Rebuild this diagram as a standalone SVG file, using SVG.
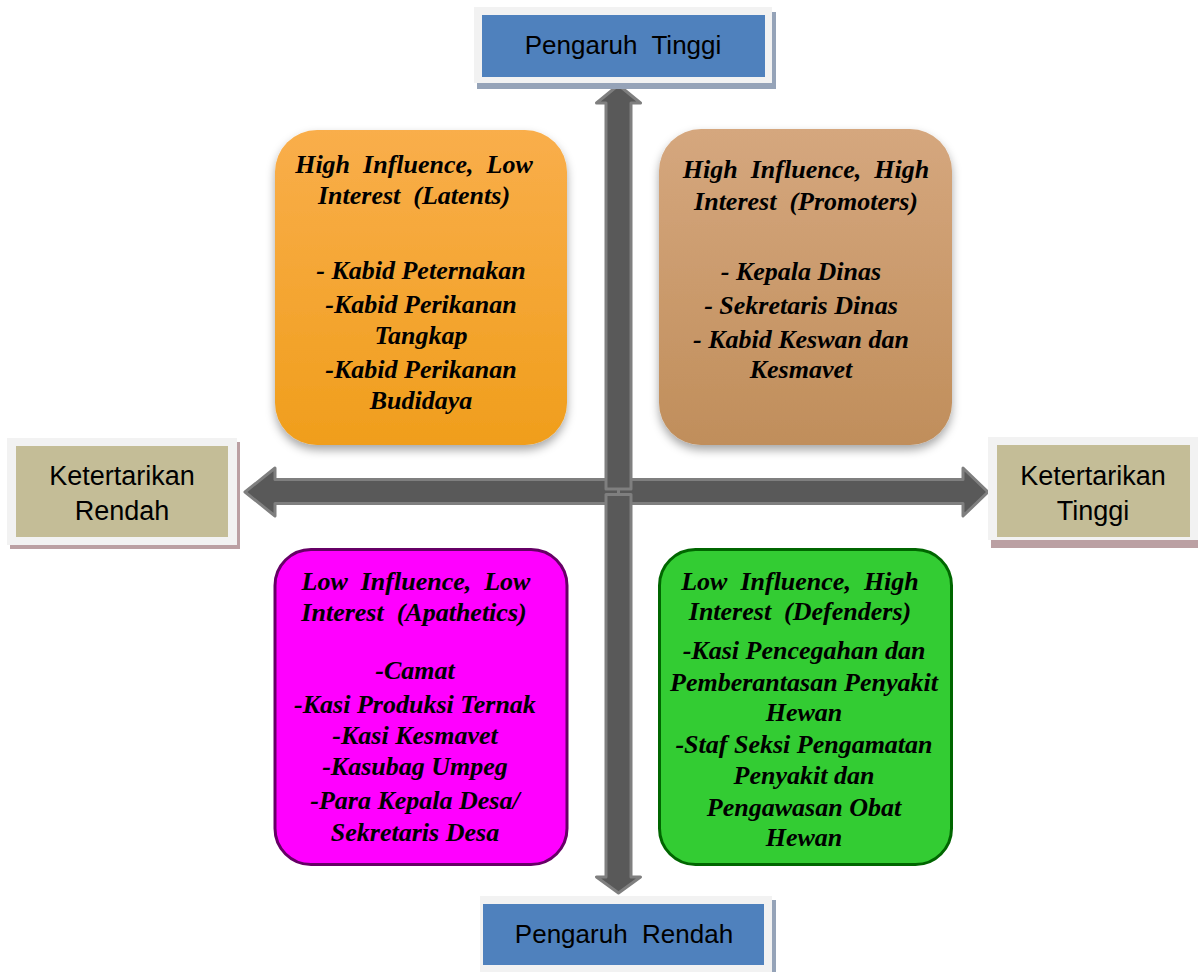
<svg xmlns="http://www.w3.org/2000/svg" width="1198" height="972" viewBox="0 0 1198 972">
<style>
.frame{fill:#f2f2f2}
.blue{fill:#4f81bd}
.tan{fill:#c4bd97}
.bshadow{fill:#95a3b8}
.tshadow{fill:#bba0a3}
.lbl{font-family:"Liberation Sans",Arial,sans-serif;font-size:26px;fill:#000;text-anchor:middle}
.side{font-size:27px}
.arrow{fill:#595959;stroke:#7f7f7f;stroke-width:3;stroke-linejoin:round}
.qt{font-family:"Liberation Serif","Times New Roman",serif;font-weight:bold;font-style:italic;font-size:26px;fill:#000;text-anchor:middle}
.qi{font-size:26px}
</style>
<defs>
<linearGradient id="gOrange" x1="0" y1="0" x2="0" y2="1">
<stop offset="0" stop-color="#f9ae4b"/>
<stop offset="1" stop-color="#f09e1c"/>
</linearGradient>
<linearGradient id="gBrown" x1="0" y1="0" x2="0" y2="1">
<stop offset="0" stop-color="#d5a77e"/>
<stop offset="1" stop-color="#c08e5b"/>
</linearGradient>
<filter id="soft" x="-10%" y="-10%" width="120%" height="125%">
<feDropShadow dx="0" dy="5" stdDeviation="5" flood-color="#000" flood-opacity="0.35"/>
</filter>
</defs>

<g id="connectors">
<polygon class="arrow" points="618.5,492 618.5,479.5 275,479.5 275,468 245,492 275,516 275,503.5 618.5,503.5"/>
<polygon class="arrow" points="618.5,479.5 963,479.5 963,468 988,492 963,516 963,503.5 618.5,503.5"/>
<polygon class="arrow" points="606,489 606,103 596.5,103 618.5,85 640.5,103 631,103 631,489"/>
<polygon class="arrow" points="606,494.5 631,494.5 631,877 640.5,877 618.5,893 596.5,877 606,877"/>
</g>

<g id="pengaruh-tinggi">
<rect class="bshadow" x="477" y="12" width="299" height="77"/>
<rect class="frame" x="474" y="7" width="298" height="76"/>
<rect class="blue" x="482" y="15" width="283" height="62"/>
<text class="lbl" x="623" y="54" xml:space="preserve">Pengaruh  Tinggi</text>
</g>

<g id="pengaruh-rendah">
<rect class="bshadow" x="483" y="900" width="293" height="72"/>
<rect class="frame" x="480" y="896" width="292" height="76"/>
<rect class="blue" x="483" y="904" width="281" height="61"/>
<text class="lbl" x="624" y="943" xml:space="preserve">Pengaruh  Rendah</text>
</g>

<g id="ketertarikan-rendah">
<rect class="tshadow" x="10" y="442" width="230" height="107"/>
<rect class="frame" x="7" y="438" width="230" height="107"/>
<rect class="tan" x="16" y="446" width="212" height="91"/>
<text class="lbl side" x="122" y="485">Ketertarikan</text>
<text class="lbl side" x="122" y="520">Rendah</text>
</g>

<g id="ketertarikan-tinggi">
<rect class="tshadow" x="991" y="441" width="210" height="107"/>
<rect class="frame" x="988" y="437" width="212" height="103"/>
<rect class="tan" x="997" y="445" width="193" height="92"/>
<text class="lbl side" x="1093" y="485">Ketertarikan</text>
<text class="lbl side" x="1093" y="520">Tinggi</text>
</g>

<g id="latents">
<rect x="275" y="130" width="292" height="315" rx="42" ry="42" fill="url(#gOrange)" filter="url(#soft)"/>
<text class="qt" x="414" y="173" xml:space="preserve">High  Influence,  Low</text>
<text class="qt" x="414" y="204" xml:space="preserve">Interest  (Latents)</text>
<text class="qt qi" x="421" y="279">- Kabid Peternakan</text>
<text class="qt qi" x="421" y="313">-Kabid Perikanan</text>
<text class="qt qi" x="421" y="344">Tangkap</text>
<text class="qt qi" x="421" y="378">-Kabid Perikanan</text>
<text class="qt qi" x="421" y="409">Budidaya</text>
</g>

<g id="promoters">
<rect x="659" y="129" width="293" height="316" rx="42" ry="42" fill="url(#gBrown)" filter="url(#soft)"/>
<text class="qt" x="806" y="178" xml:space="preserve">High  Influence,  High</text>
<text class="qt" x="806" y="210" xml:space="preserve">Interest  (Promoters)</text>
<text class="qt qi" x="801" y="280">- Kepala Dinas</text>
<text class="qt qi" x="801" y="314">- Sekretaris Dinas</text>
<text class="qt qi" x="801" y="348">- Kabid Keswan dan</text>
<text class="qt qi" x="801" y="378">Kesmavet</text>
</g>

<g id="apathetics">
<rect x="275" y="549.5" width="292" height="315" rx="36" ry="36" fill="#ff00ff" stroke="#660066" stroke-width="3"/>
<text class="qt" x="416" y="590" xml:space="preserve">Low  Influence,  Low</text>
<text class="qt" x="414" y="621" xml:space="preserve">Interest  (Apathetics)</text>
<text class="qt qi" x="415" y="679">-Camat</text>
<text class="qt qi" x="415" y="713">-Kasi Produksi Ternak</text>
<text class="qt qi" x="415" y="744">-Kasi Kesmavet</text>
<text class="qt qi" x="415" y="775">-Kasubag Umpeg</text>
<text class="qt qi" x="415" y="809">-Para Kepala Desa/</text>
<text class="qt qi" x="415" y="841">Sekretaris Desa</text>
</g>

<g id="defenders">
<rect x="659.5" y="549.5" width="292" height="315" rx="36" ry="36" fill="#33cc33" stroke="#006600" stroke-width="3"/>
<text class="qt" x="800" y="590" xml:space="preserve">Low  Influence,  High</text>
<text class="qt" x="800" y="620" xml:space="preserve">Interest  (Defenders)</text>
<text class="qt qi" x="804" y="659">-Kasi Pencegahan dan</text>
<text class="qt qi" x="804" y="691">Pemberantasan Penyakit</text>
<text class="qt qi" x="804" y="721">Hewan</text>
<text class="qt qi" x="804" y="753">-Staf Seksi Pengamatan</text>
<text class="qt qi" x="804" y="784">Penyakit dan</text>
<text class="qt qi" x="804" y="816">Pengawasan Obat</text>
<text class="qt qi" x="804" y="846">Hewan</text>
</g>
</svg>
